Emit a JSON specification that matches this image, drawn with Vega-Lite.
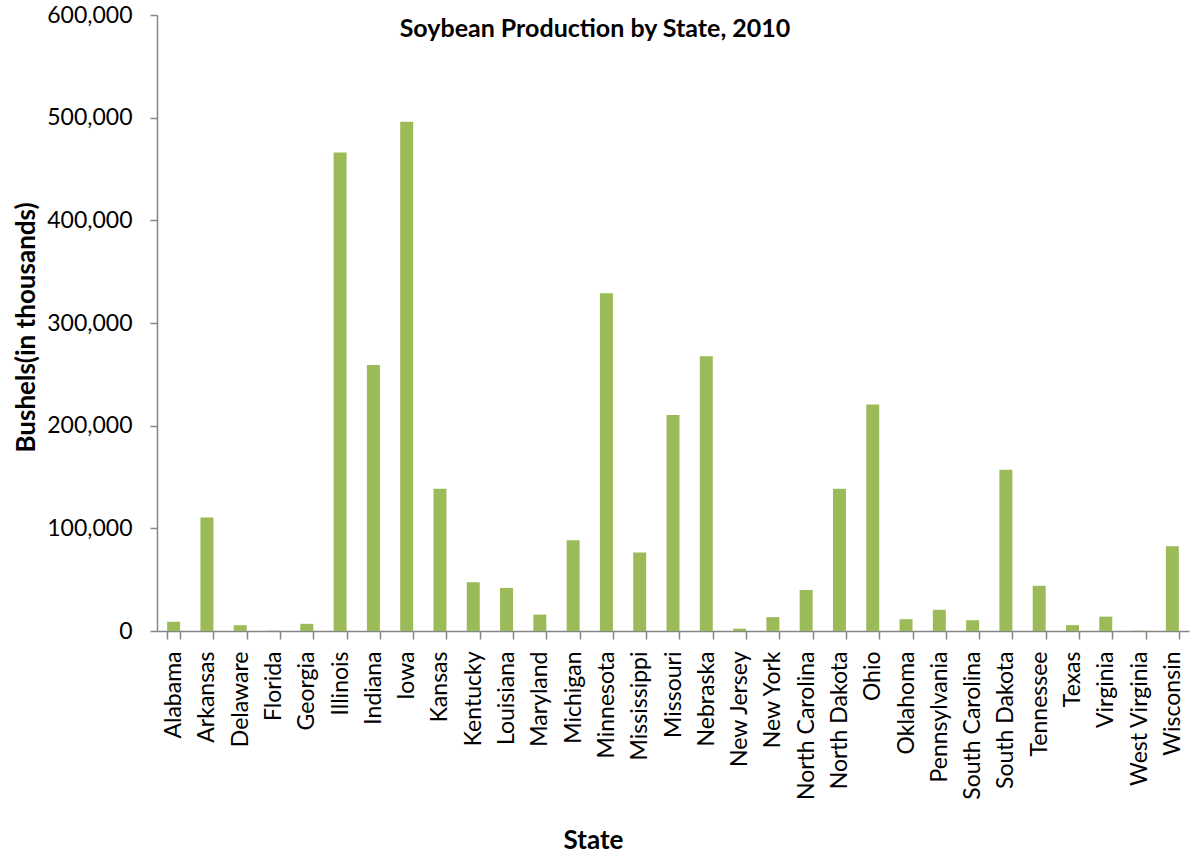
{
  "$schema": "https://vega.github.io/schema/vega-lite/v6.json",
  "width": 1032,
  "height": 616,
  "autosize": {"type": "none"},
  "padding": {"left": 157, "top": 15, "right": 1, "bottom": 225},
  "background": "white",
  "title": {
    "text": "Soybean Production by State, 2010",
    "font": "Lato",
    "fontSize": 25,
    "fontWeight": "bold",
    "color": "black",
    "anchor": "middle",
    "dx": -78,
    "dy": 35,
    "offset": -23,
    "baseline": "alphabetic"
  },
  "data": {
    "values": [
      {"State": "Alabama", "Bushels": 9000},
      {"State": "Arkansas", "Bushels": 110500},
      {"State": "Delaware", "Bushels": 5600},
      {"State": "Florida", "Bushels": 300},
      {"State": "Georgia", "Bushels": 7000},
      {"State": "Illinois", "Bushels": 466000},
      {"State": "Indiana", "Bushels": 259000},
      {"State": "Iowa", "Bushels": 496000},
      {"State": "Kansas", "Bushels": 138500},
      {"State": "Kentucky", "Bushels": 47500},
      {"State": "Louisiana", "Bushels": 42000},
      {"State": "Maryland", "Bushels": 16000},
      {"State": "Michigan", "Bushels": 88500},
      {"State": "Minnesota", "Bushels": 329000},
      {"State": "Mississippi", "Bushels": 76500},
      {"State": "Missouri", "Bushels": 210500},
      {"State": "Nebraska", "Bushels": 267500},
      {"State": "New Jersey", "Bushels": 2200},
      {"State": "New York", "Bushels": 13500},
      {"State": "North Carolina", "Bushels": 40000},
      {"State": "North Dakota", "Bushels": 138500},
      {"State": "Ohio", "Bushels": 220500},
      {"State": "Oklahoma", "Bushels": 11500},
      {"State": "Pennsylvania", "Bushels": 20700},
      {"State": "South Carolina", "Bushels": 10500},
      {"State": "South Dakota", "Bushels": 157000},
      {"State": "Tennessee", "Bushels": 44000},
      {"State": "Texas", "Bushels": 5700},
      {"State": "Virginia", "Bushels": 14000},
      {"State": "West Virginia", "Bushels": 300},
      {"State": "Wisconsin", "Bushels": 82500}
    ]
  },
  "mark": {"type": "bar", "color": "#9BBB59"},
  "encoding": {
    "x": {
      "field": "State",
      "type": "nominal",
      "sort": null,
      "scale": {"paddingInner": 0.61, "paddingOuter": 0.305},
      "axis": {
        "title": "State",
        "titleFont": "Lato",
        "titleFontSize": 26,
        "titleFontWeight": "bold",
        "titleColor": "black",
        "titleX": 436,
        "titleY": 217,
        "titleBaseline": "alphabetic",
        "titleAlign": "center",
        "labelAngle": -90,
        "labelFont": "Lato",
        "labelFontSize": 23,
        "labelColor": "black",
        "labelPadding": 12,
        "labelOverlap": false,
        "tickBand": "extent",
        "tickSize": 8,
        "tickColor": "#868686",
        "tickWidth": 1.5,
        "domainColor": "#868686",
        "domainWidth": 1.5
      }
    },
    "y": {
      "field": "Bushels",
      "type": "quantitative",
      "scale": {"domain": [0, 600000], "nice": false},
      "axis": {
        "title": "Bushels(in thousands)",
        "titleFont": "Lato",
        "titleFontSize": 26,
        "titleFontWeight": "bold",
        "titleColor": "black",
        "titleX": -123,
        "titleY": 312,
        "titleAngle": -90,
        "titleBaseline": "alphabetic",
        "titleAlign": "center",
        "values": [0, 100000, 200000, 300000, 400000, 500000, 600000],
        "format": ",.0f",
        "grid": false,
        "labelFont": "Lato",
        "labelFontSize": 23,
        "labelColor": "black",
        "labelPadding": 18,
        "tickSize": 7,
        "tickColor": "#868686",
        "tickWidth": 1.5,
        "domainColor": "#868686",
        "domainWidth": 1.5
      }
    }
  },
  "config": {"view": {"stroke": null}}
}
